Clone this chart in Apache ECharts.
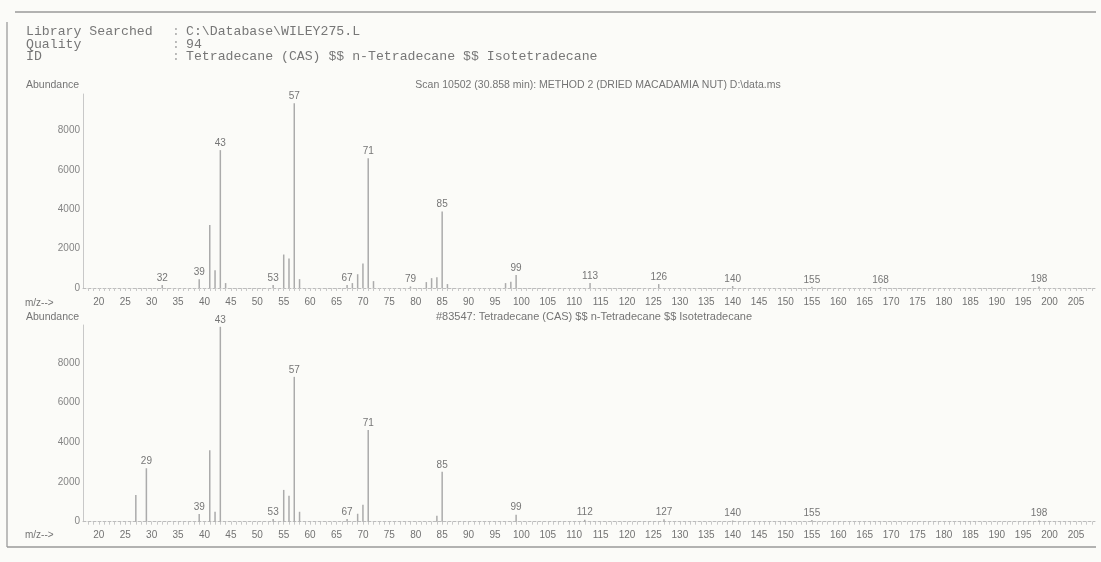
<!DOCTYPE html>
<html>
<head>
<meta charset="utf-8">
<script src="https://cdn.jsdelivr.net/npm/echarts@6/dist/echarts.min.js"></script>
<style>
html,body{margin:0;padding:0;background:#fbfbf8;}
#chart{width:1101px;height:562px;}
</style>
</head>
<body>
<div id="chart"></div>
<script>
// Sample spectrum (Scan 10502)
const sampleMz = [32, 39, 41, 42, 43, 44, 53, 55, 56, 57, 58, 67, 68, 69, 70, 71, 72, 79, 82, 83, 84, 85, 86, 97, 98, 99, 113, 126, 140, 155, 168, 198];
const sampleAb = [150, 450, 3200, 900, 7000, 250, 150, 1700, 1500, 9380, 450, 150, 250, 700, 1250, 6590, 350, 80, 300, 500, 550, 3880, 200, 250, 320, 660, 250, 200, 100, 60, 50, 80];
const sampleLabeled = [32, 39, 43, 53, 57, 67, 71, 79, 85, 99, 113, 126, 140, 155, 168, 198];

// Library spectrum (#83547)
const libMz = [27, 29, 39, 41, 42, 43, 53, 55, 56, 57, 58, 67, 69, 70, 71, 84, 85, 99, 112, 127, 140, 155, 198];
const libAb = [1340, 2690, 390, 3600, 500, 9810, 130, 1600, 1300, 7290, 500, 130, 400, 850, 4610, 300, 2510, 350, 100, 120, 60, 80, 60];
const libLabeled = [29, 39, 43, 53, 57, 67, 71, 85, 99, 112, 127, 140, 155, 198];

const xTickLabels = [20,25,30,35,40,45,50,55,60,65,70,75,80,85,90,95,100,105,110,115,120,125,130,135,140,145,150,155,160,165,170,175,180,185,190,195,200,205];
const xMinorTicks = [];
for (let m = 18; m <= 208; m++) xMinorTicks.push(m);
const yTickLabels = [0, 2000, 4000, 6000, 8000];

const headerLabels = ['Library Searched', 'Quality', 'ID'];
const headerValues = ['C:\\Database\\WILEY275.L', '94', 'Tetradecane (CAS) $$ n-Tetradecane $$ Isotetradecane'];
const title1 = 'Scan 10502 (30.858 min): METHOD 2 (DRIED MACADAMIA NUT) D:\\data.ms';
const title2 = '#83547: Tetradecane (CAS) $$ n-Tetradecane $$ Isotetradecane';

const chart = echarts.init(document.getElementById('chart'), null, {renderer:'canvas'});

function buildData(mz, ab, labeled) {
  return mz.map((m, i) => ({
    value: [m, ab[i]],
    label: { show: labeled.indexOf(m) >= 0 }
  }));
}

const FONT = 'Liberation Sans';
function xAxisFor(i) {
  return {
    type: 'value', gridIndex: i, min: 17.0, max: 208.6,
    axisLine: { show: true, lineStyle: { color: '#bcbcbc', width: 1, type: [3, 2] } },
    axisTick: { show: true, customValues: xMinorTicks, length: 3, lineStyle: { color: '#c8c8c8' } },
    axisLabel: { customValues: xTickLabels, color: '#727272', fontSize: 10, fontFamily: FONT, margin: 9 },
    splitLine: { show: false }
  };
}
function yAxisFor(i, max) {
  return {
    type: 'value', gridIndex: i, min: 0, max: max,
    axisLine: { show: true, lineStyle: { color: '#c8c8c8', width: 1 } },
    axisTick: { show: false },
    axisLabel: { customValues: yTickLabels, color: '#858585', fontSize: 10, fontFamily: FONT, margin: 3,
      formatter: v => String(v) },
    splitLine: { show: false }
  };
}
function barSeries(i, data) {
  return {
    type: 'bar', xAxisIndex: i, yAxisIndex: i, barWidth: 1.5,
    itemStyle: { color: '#ababab' },
    label: { position: 'top', distance: 2, color: '#767676', fontSize: 10, fontFamily: FONT,
      formatter: p => String(p.value[0]) },
    data: data
  };
}

const graphics = [];
// frame lines
graphics.push({ type: 'line', shape: { x1: 15, y1: 12, x2: 1096, y2: 12 }, style: { stroke: '#9a9a9a', lineWidth: 1.5 } });
graphics.push({ type: 'line', shape: { x1: 7, y1: 22, x2: 7, y2: 547 }, style: { stroke: '#a8a8a8', lineWidth: 1.5 } });
graphics.push({ type: 'line', shape: { x1: 7, y1: 547, x2: 1096, y2: 547 }, style: { stroke: '#9a9a9a', lineWidth: 1.5 } });
// header block
const headerY = [32, 45, 57];
headerLabels.forEach((t, i) => {
  graphics.push({ type: 'text', x: 26, y: headerY[i], style: { text: t, font: '13.2px "Liberation Mono"', fill: '#777', textVerticalAlign: 'middle' } });
  graphics.push({ type: 'text', x: 172, y: headerY[i], style: { text: ':', font: '13.2px "Liberation Mono"', fill: '#aaa', textVerticalAlign: 'middle' } });
  graphics.push({ type: 'text', x: 186, y: headerY[i], style: { text: headerValues[i], font: '13.2px "Liberation Mono"', fill: '#777', textVerticalAlign: 'middle' } });
});
// axis titles
[85, 317].forEach(y => graphics.push({ type: 'text', x: 26, y: y, style: { text: 'Abundance', font: '10.5px "Liberation Sans"', fill: '#747474', textVerticalAlign: 'middle' } }));
[303, 535].forEach(y => graphics.push({ type: 'text', x: 25, y: y, style: { text: 'm/z-->', font: '10px "Liberation Sans"', fill: '#747474', textVerticalAlign: 'middle' } }));
graphics.push({ type: 'text', x: 598, y: 85, style: { text: title1, font: '10.5px "Liberation Sans"', fill: '#747474', textAlign: 'center', textVerticalAlign: 'middle' } });
graphics.push({ type: 'text', x: 594, y: 317, style: { text: title2, font: '11px "Liberation Sans"', fill: '#747474', textAlign: 'center', textVerticalAlign: 'middle' } });

chart.setOption({
  backgroundColor: '#fbfbf8',
  animation: false,
  grid: [
    { left: 83, top: 94, width: 1012, height: 194 },
    { left: 83, top: 325, width: 1012, height: 196.7 }
  ],
  xAxis: [xAxisFor(0), xAxisFor(1)],
  yAxis: [yAxisFor(0, 9850), yAxisFor(1, 9900)],
  series: [
    barSeries(0, buildData(sampleMz, sampleAb, sampleLabeled)),
    barSeries(1, buildData(libMz, libAb, libLabeled))
  ],
  graphic: graphics
});
</script>
</body>
</html>
